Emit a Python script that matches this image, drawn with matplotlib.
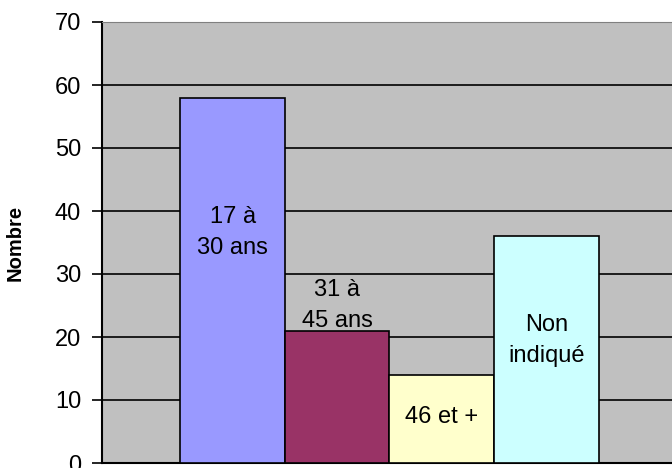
import matplotlib.pyplot as plt
import numpy as np

plt.rcParams['font.family'] = ['Liberation Sans', 'DejaVu Sans']

# data
categories = ['17 à\n30 ans', '31 à\n45 ans', '46 et +', 'Non\nindiqué']
values = [58, 21, 14, 36]
colors = ['#9999FF', '#993366', '#FFFFCC', '#CCFFFF']
label_y = [36.6, 25.0, 7.3, 19.4]  # where the category text sits
yticks = [0, 10, 20, 30, 40, 50, 60, 70]

fig = plt.figure(figsize=(6.72, 4.68), dpi=100)
ax = fig.add_axes([102/672, 5/468, 575/672, 441/468])
ax.set_facecolor('#C0C0C0')

x = np.arange(len(values))
ax.bar(x, values, width=1.0, color=colors, edgecolor='black', linewidth=1.2, zorder=3)

for xi, txt, ly in zip(x, categories, label_y):
    ax.text(xi, ly, txt, ha='center', va='center', fontsize=17, linespacing=1.55, zorder=4)

ax.set_xlim(-1.25, 4.25)
ax.set_ylim(0, 70)
ax.set_yticks(yticks)
ax.set_xticks([])
ax.yaxis.grid(True, color='black', linewidth=1.2, zorder=0)
ax.set_axisbelow(True)

ax.tick_params(axis='y', direction='out', length=7, width=1.2, labelsize=17, pad=8)
ax.spines['left'].set_linewidth(1.5)
ax.spines['bottom'].set_linewidth(1.5)
ax.spines['top'].set_color('#808080')
ax.spines['right'].set_visible(False)

ax.set_ylabel('Nombre', fontsize=14.5, fontweight='bold')
ax.yaxis.set_label_coords(-0.134, 0.5)

fig.savefig('out.png', dpi=100)
